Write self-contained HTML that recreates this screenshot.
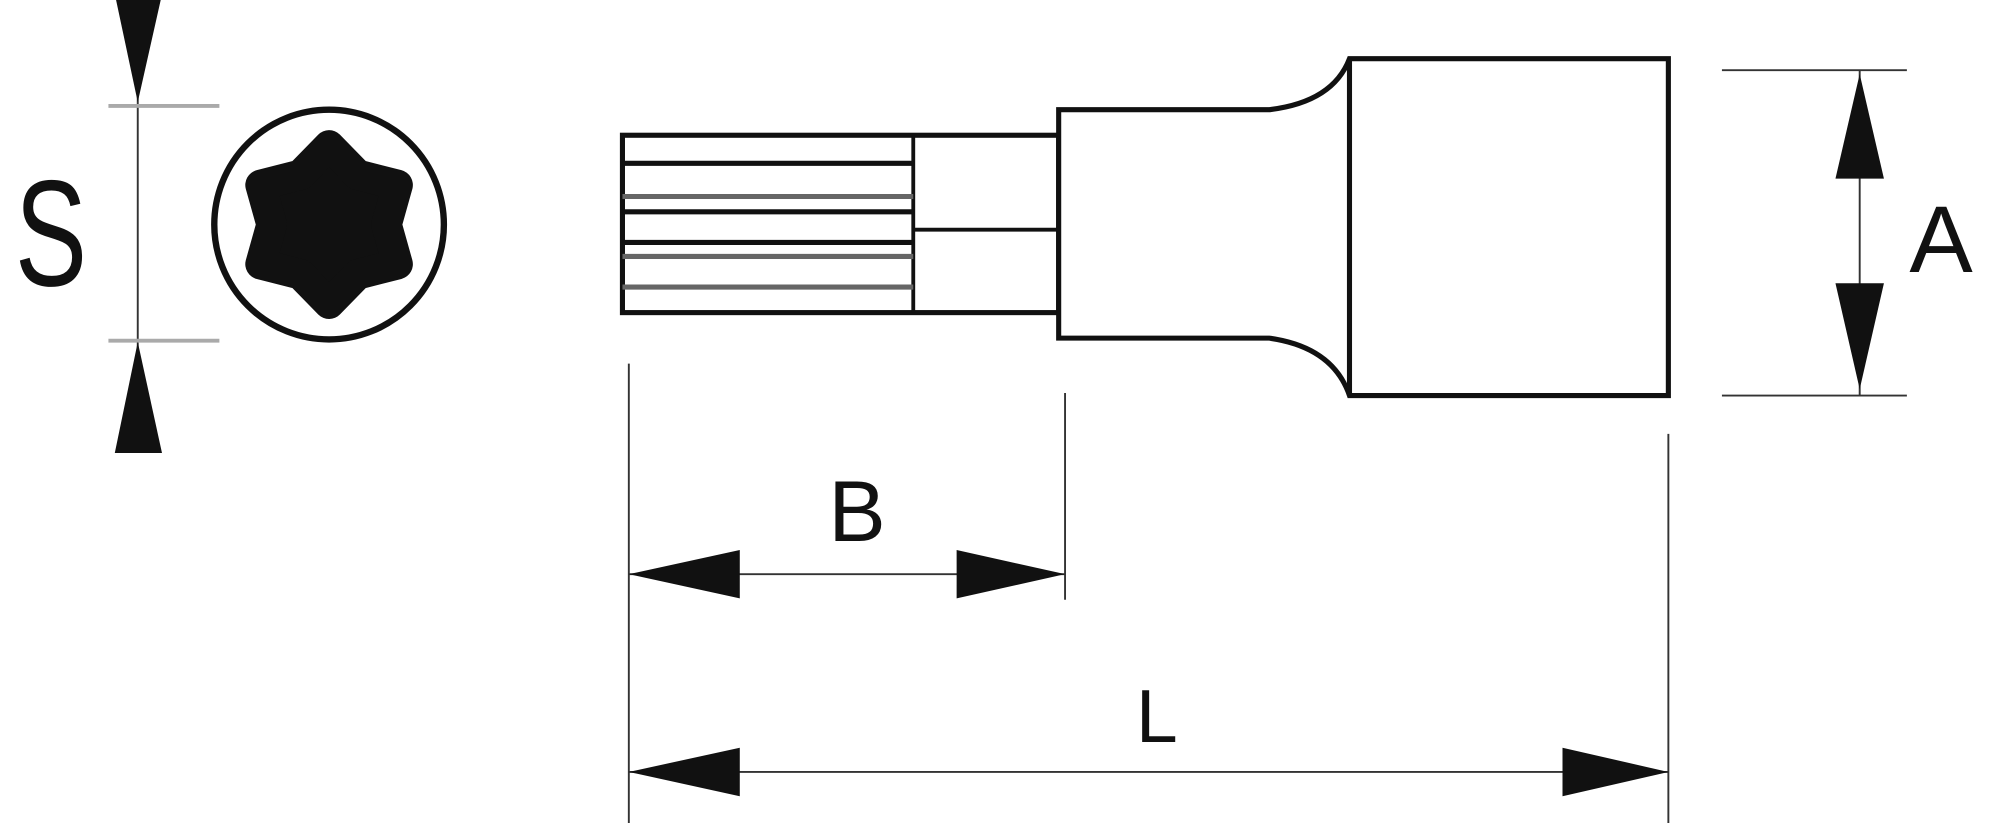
<!DOCTYPE html>
<html><head><style>html,body{margin:0;padding:0;background:#fff}svg{display:block}
.t{position:absolute;font-family:"Liberation Sans",sans-serif;line-height:1;color:#111;white-space:nowrap}
</style></head><body>
<div style="position:relative;width:2000px;height:823px;overflow:hidden">
<svg width="2000" height="823" viewBox="0 0 1568 645" preserveAspectRatio="none" xmlns="http://www.w3.org/2000/svg">
<rect width="1568" height="645" fill="#fff"/>
<!-- S dimension -->
<line x1="108" y1="0" x2="108" y2="355" stroke="#333" stroke-width="1.5"/>
<line x1="85" y1="83" x2="172" y2="83" stroke="#aaa" stroke-width="3"/>
<line x1="85" y1="267" x2="172" y2="267" stroke="#aaa" stroke-width="3"/>
<polygon points="91,0 126,0 108,80" fill="#111"/>
<polygon points="90,355 127,355 108,268" fill="#111"/>
<!-- torx head -->
<circle cx="258" cy="176" r="90" fill="none" stroke="#111" stroke-width="5"/>
<g transform="translate(258,176)">
<polygon points="0,-62 22.5,-39 53.7,-31 45,0 53.7,31 22.5,39 0,62 -22.5,39 -53.7,31 -45,0 -53.7,-31 -22.5,-39" fill="#111" stroke="#111" stroke-width="24" stroke-linejoin="round"/>
</g>
<!-- bit -->
<g stroke="#111" fill="none" stroke-width="4">
<rect x="488" y="106" width="342" height="139" fill="#fff"/>
<line x1="716" y1="106" x2="716" y2="245" stroke-width="3"/>
<line x1="716" y1="180" x2="830" y2="180" stroke-width="3"/>
<line x1="488" y1="128" x2="716" y2="128"/>
<line x1="488" y1="154" x2="716" y2="154" stroke="#666"/>
<line x1="488" y1="166" x2="716" y2="166"/>
<line x1="488" y1="190" x2="716" y2="190"/>
<line x1="488" y1="201" x2="716" y2="201" stroke="#666"/>
<line x1="488" y1="225" x2="716" y2="225" stroke="#666"/>
<path d="M830,86 L995,86 Q1045,80 1058,46 L1308,46 L1308,310 L1058,310 Q1045,272 995,265 L830,265 Z" fill="#fff"/>
<line x1="1058" y1="46" x2="1058" y2="310"/>
</g>
<!-- dimensions -->
<g stroke="#333" stroke-width="1.5">
<line x1="1350" y1="55" x2="1495" y2="55"/>
<line x1="1350" y1="310" x2="1495" y2="310"/>
<line x1="1458" y1="55" x2="1458" y2="310"/>
<line x1="493" y1="285" x2="493" y2="645"/>
<line x1="835" y1="308" x2="835" y2="470"/>
<line x1="1308" y1="340" x2="1308" y2="645"/>
<line x1="493" y1="450" x2="835" y2="450"/>
<line x1="493" y1="605" x2="1308" y2="605"/>
</g>
<g fill="#111">
<polygon points="1458,58 1439,140 1477,140"/>
<polygon points="1458,305 1439,222 1477,222"/>
<polygon points="493,450 580,431 580,469"/>
<polygon points="835,450 750,431 750,469"/>
<polygon points="493,605 580,586 580,624"/>
<polygon points="1308,605 1225,586 1225,624"/>
</g>
</svg>
<div class="t" style="left:1px;width:100px;text-align:center;top:164px;font-size:108px;transform:scaleY(1.4);transform-origin:50% 15px">S</div>
<div class="t" style="left:1891px;width:100px;text-align:center;top:193px;font-size:95px">A</div>
<div class="t" style="left:807px;width:100px;text-align:center;top:469px;font-size:86px">B</div>
<div class="t" style="left:1136px;top:679px;font-size:75px">L</div>
</div>
</body></html>
